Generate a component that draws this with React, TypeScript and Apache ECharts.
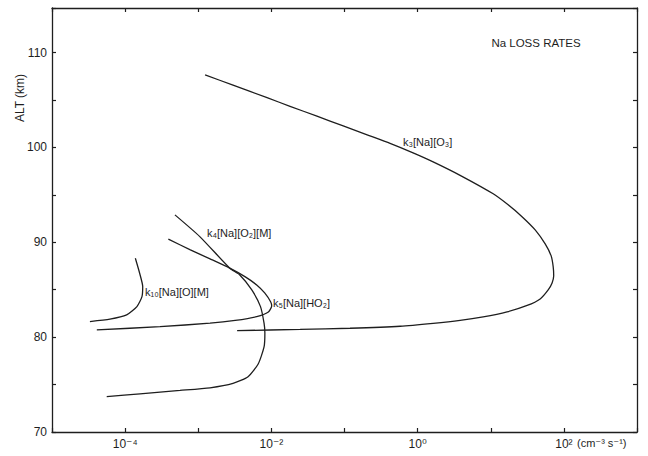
import React, { useEffect, useRef } from "react";
import * as echarts from "echarts";

// k3[Na][O3]
const k3Rate = [1.24e-3, 2.99e-3, 8.73e-3, 0.018, 0.042, 0.096, 0.204, 0.42, 0.867, 1.63, 3.81, 10.8, 17.3, 26.1, 40.5, 55.5, 67, 71.4, 72.6, 69, 61, 47.4, 31.5, 16.7, 7.87, 3.81, 1.63, 0.577, 0.119, 0.0247, 3.4e-3];
const k3Alt = [107.66, 106.56, 105.24, 104.34, 103.29, 102.27, 101.33, 100.43, 99.43, 98.48, 97.06, 95.11, 93.95, 92.78, 91.31, 89.83, 88.57, 87.44, 86.46, 85.72, 84.98, 84.03, 83.34, 82.66, 82.13, 81.76, 81.45, 81.15, 80.94, 80.81, 80.69];

// k5[Na][HO2]
const k5Rate = [3.9e-4, 7.8e-4, 1.45e-3, 2.7e-3, 4.4e-3, 6.3e-3, 8.1e-3, 9.8e-3, 0.0101, 9.1e-3, 6.3e-3, 3.2e-3, 1.45e-3, 3.0e-4, 4.1e-5];
const k5Alt = [90.33, 89.2, 88.25, 87.27, 86.35, 85.5, 84.66, 83.71, 83.29, 82.66, 82.16, 81.76, 81.47, 81.11, 80.76];

// k4[Na][O2][M]
const k4Rate = [4.8e-4, 1.05e-3, 2.7e-3, 3.7e-3, 5.4e-3, 7.1e-3, 7.94e-3, 8.15e-3, 7.94e-3, 6.6e-3, 4.8e-3, 2.99e-3, 1.45e-3, 5.64e-4, 1.6e-4, 5.6e-5];
const k4Alt = [92.89, 90.6, 87.27, 86.56, 84.98, 83.22, 81.47, 80.44, 78.97, 77.17, 75.83, 75.12, 74.66, 74.38, 74.03, 73.72];

// k10[Na][O][M]
const k10Rate = [1.38e-4, 1.58e-4, 1.74e-4, 1.70e-4, 1.45e-4, 1.05e-4, 6.2e-5, 3.3e-5];
const k10Alt = [88.32, 86.74, 85.33, 84.27, 83.22, 82.34, 81.89, 81.64];

const seriesNames = ["k₃[Na][O₃]", "k₄[Na][O₂][M]", "k₅[Na][HO₂]", "k₁₀[Na][O][M]"];
const xLabelExponents = [-4, -2, 0, 2];
const yLabelValues = [70, 80, 90, 100, 110];
const titleText = "Na LOSS RATES";
const yTitle = "ALT (km)";
const xUnit = "(cm⁻³ s⁻¹)";

const SUP: Record<string, string> = {
  "-": "⁻", "0": "⁰", "1": "¹", "2": "²", "3": "³", "4": "⁴",
  "5": "⁵", "6": "⁶", "7": "⁷", "8": "⁸", "9": "⁹",
};
const sup = (n: number) => String(n).split("").map((c) => SUP[c] || c).join("");

const zip = (xs: number[], ys: number[]) => xs.map((x, i) => [x, ys[i]]);

const INK = "#1e1e1e";
const FONT = "'Liberation Sans', 'DejaVu Sans', sans-serif";

export default function App() {
  const ref = useRef<HTMLDivElement>(null);
  useEffect(() => {
    if (!ref.current) return;
    const chart = echarts.init(ref.current, undefined, { renderer: "svg" });
    const lineSeries = (name: string, xs: number[], ys: number[]) => ({
      name,
      type: "line",
      xAxisIndex: 0,
      yAxisIndex: 0,
      data: zip(xs, ys),
      showSymbol: false,
      symbol: "none",
      smooth: 0.2,
      lineStyle: { color: INK, width: 1.3 },
      silent: true,
    });
    const txt = (text: string, x: number, y: number, size: number, extra: any = {}) => ({
      type: "text",
      x,
      y,
      silent: true,
      ...extra,
      style: {
        text,
        fill: INK,
        font: `${size}px ${FONT}`,
        textAlign: extra.align || "left",
        textVerticalAlign: "middle",
        align: extra.align || "left",
        verticalAlign: "middle",
      },
    });
    const axisCommon = {
      axisLine: { show: true, lineStyle: { color: INK, width: 1.3 } },
      axisTick: { show: true, inside: true, length: 4, lineStyle: { color: INK, width: 1.2 } },
      splitLine: { show: false },
    };
    chart.setOption({
      animation: false,
      backgroundColor: "#ffffff",
      textStyle: { fontFamily: FONT },
      grid: { left: 52, right: 11, top: 8, bottom: 24, containLabel: false },
      xAxis: [
        {
          type: "log",
          logBase: 10,
          min: 1e-5,
          max: 1e3,
          splitNumber: 8,
          position: "bottom",
          ...axisCommon,
          axisLabel: {
            show: true,
            color: INK,
            fontSize: 12,
            fontFamily: FONT,
            margin: 6,
            showMinLabel: true,
            showMaxLabel: true,
            formatter: (v: number) => {
              const n = Math.round(Math.log10(v));
              return xLabelExponents.includes(n) ? "10" + sup(n) : "";
            },
          },
        },
        {
          type: "log",
          logBase: 10,
          min: 1e-5,
          max: 1e3,
          splitNumber: 8,
          position: "top",
          ...axisCommon,
          axisLabel: { show: false },
        },
      ],
      yAxis: [
        {
          type: "value",
          min: 70,
          max: 114.7,
          interval: 5,
          position: "left",
          ...axisCommon,
          axisLabel: {
            show: true,
            color: INK,
            fontSize: 12,
            fontFamily: FONT,
            margin: 5,
            formatter: (v: number) => (yLabelValues.includes(v) ? String(v) : ""),
          },
        },
        {
          type: "value",
          min: 70,
          max: 114.7,
          interval: 5,
          position: "right",
          ...axisCommon,
          axisLabel: { show: false },
        },
      ],
      series: [
        lineSeries(seriesNames[0], k3Rate, k3Alt),
        lineSeries(seriesNames[1], k4Rate, k4Alt),
        lineSeries(seriesNames[2], k5Rate, k5Alt),
        lineSeries(seriesNames[3], k10Rate, k10Alt),
      ],
      graphic: [
        txt(titleText, 536, 43, 11.5, { align: "center" }),
        txt(yTitle, 20, 98, 12, { align: "center", rotation: Math.PI / 2 }),
        txt(xUnit, 577, 443, 11),
        txt(seriesNames[0], 403, 142, 11),
        txt(seriesNames[1], 207, 233, 11),
        txt(seriesNames[2], 273, 303, 11),
        txt(seriesNames[3], 145, 292, 11),
      ],
    });
    return () => chart.dispose();
  }, []);
  return (
    <div
      ref={ref}
      style={{ position: "fixed", left: 0, top: 0, width: 648, height: 456, background: "#fff" }}
    />
  );
}
